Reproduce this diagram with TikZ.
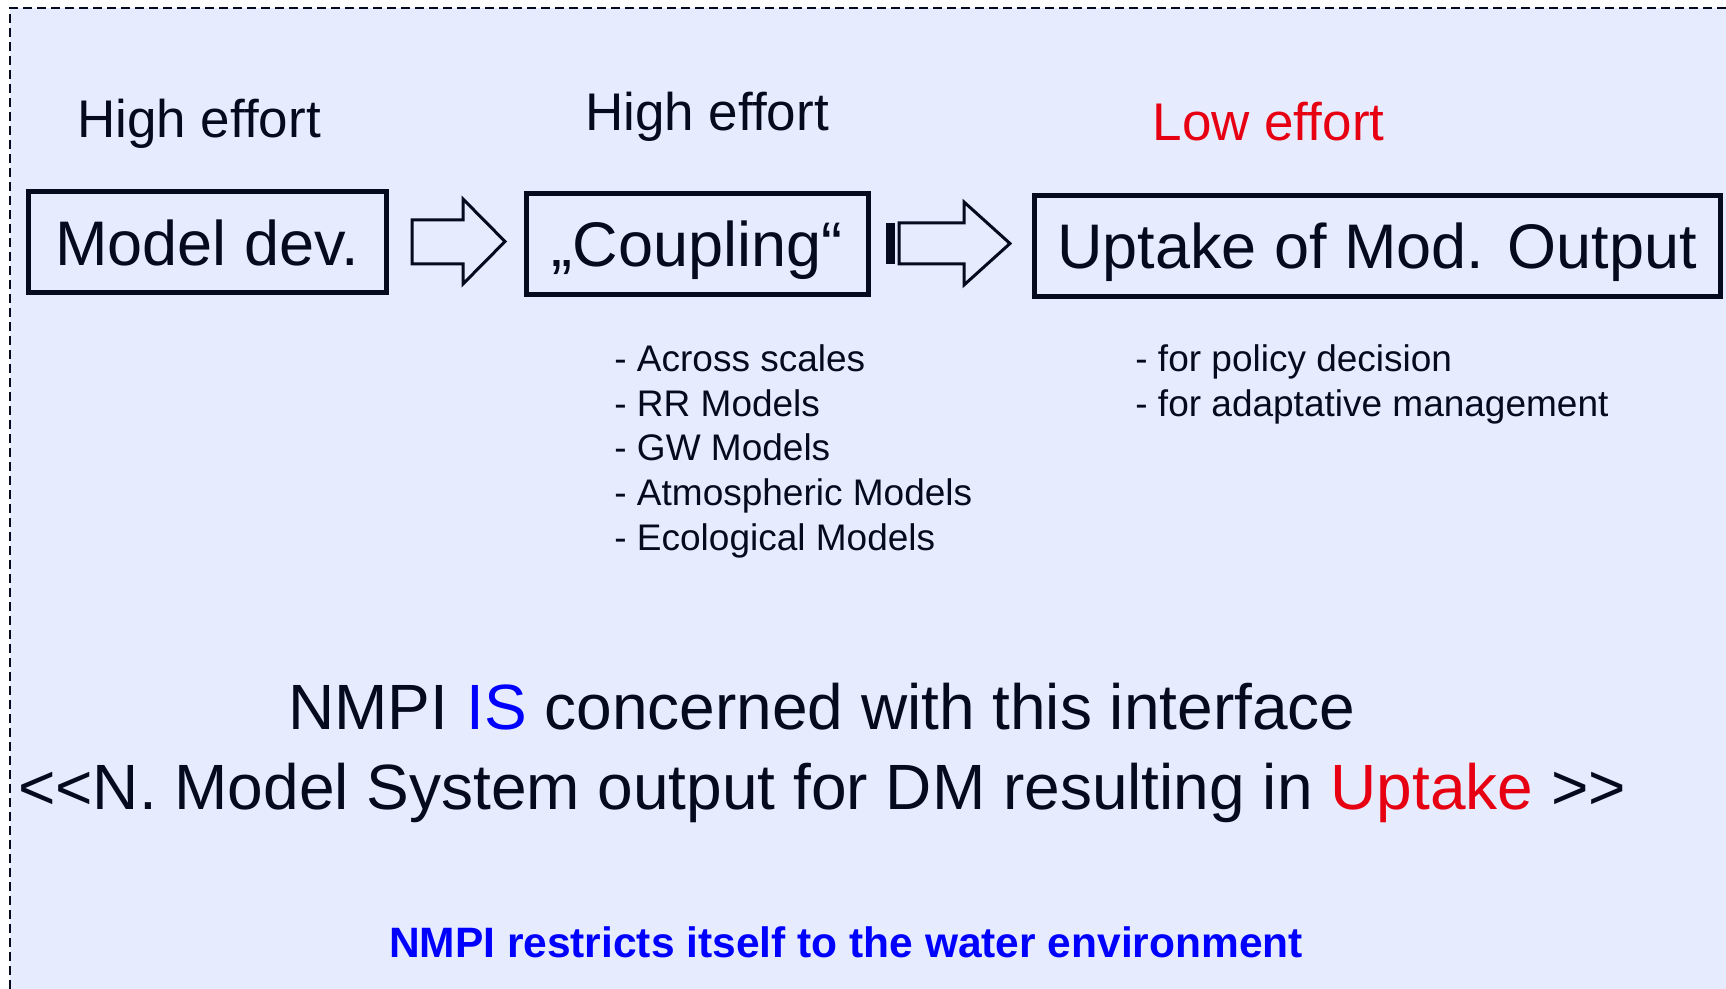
\documentclass[tikz,border=0pt]{standalone}
\usepackage{fontspec}
\setmainfont{Liberation Sans}
\definecolor{paneblue}{RGB}{230,235,254}
\definecolor{inkdark}{RGB}{5,10,30}
\definecolor{lowred}{RGB}{230,0,18}
\definecolor{nmpiblue}{RGB}{0,0,255}

\begin{document}
\begin{tikzpicture}[x=0.5pt, y=-0.5pt, color=inkdark, text=inkdark,
  box/.style={draw, line width=2.5pt, inner sep=0pt, minimum height=50.5pt,
              text height=27pt, text depth=4pt, font=\fontsize{31.5}{36}\selectfont},
  effort/.style={anchor=base, inner sep=0pt, font=\fontsize{26.5}{30}\selectfont},
  item/.style={anchor=base west, inner sep=0pt, font=\fontsize{18.5}{22}\selectfont},
  bigline/.style={anchor=base, inner sep=0pt, font=\fontsize{32}{36}\selectfont},
  hollow/.style={draw, line width=1.5pt, line join=miter}]

% ---- page and panel --------------------------------------------------------------
\useasboundingbox (0,0) rectangle (1726,989);
\fill[white] (0,0) rectangle (1726,989);
\fill[paneblue] (10,8) rectangle (1726,989);
\draw[line width=1.2pt, dash pattern=on 4.5pt off 2.5pt] (10,989) -- (10,8) -- (1726,8);

% ---- effort labels ---------------------------------------------------------------
\node[effort] (effdev) at (199,138)    {High effort};
\node[effort] (effcpl) at (707,131)    {High effort};
\node[effort, text=lowred] (effupt) at (1268.5,141) {Low effort};

% ---- the three stages ------------------------------------------------------------
\node[box, minimum width=179pt] (modeldev) at (207,242.5) {Model dev.};
\node[box, minimum width=171pt] (coupling) at (697,244)   {„Coupling“};
\node[box, minimum width=343pt] (uptake)   at (1377,246)  {Uptake of Mod. Output};

% ---- block arrows between the stages ---------------------------------------------
\draw[hollow] (412,220) -- (463,220) -- (463,199) -- (505,241.5)
  -- (463,284) -- (463,264) -- (412,264) -- cycle;
\fill (886,223) rectangle (895,264);
\draw[hollow] (899,223) -- (964,223) -- (964,202) -- (1010,243.5)
  -- (964,285) -- (964,264) -- (899,264) -- cycle;

% ---- what coupling covers --------------------------------------------------------
\node[item] (across) at (614,371.5) {- Across scales};
\node[item] (rrmod)  at (614,416.2) {- RR Models};
\node[item] (gwmod)  at (614,461)   {- GW Models};
\node[item] (atmmod) at (614,505.7) {- Atmospheric Models};
\node[item] (ecomod) at (614,550.5) {- Ecological Models};

% ---- what uptake is for ----------------------------------------------------------
\node[item] (policy) at (1135,371.5) {- for policy decision};
\node[item] (adapt)  at (1135,416.2) {- for adaptative management};

% ---- the statement ---------------------------------------------------------------
\node[bigline] (concern) at (822,730)
  {NMPI \textcolor{nmpiblue}{IS} concerned with this interface};
\node[bigline] (scope) at (822,809)
  {<{}<N. Model System output for DM resulting in \textcolor{lowred}{Uptake} >{}>};

\node[anchor=base, inner sep=0pt, text=nmpiblue, font=\bfseries\fontsize{21.25}{25}\selectfont]
  (water) at (846,957.5) {NMPI restricts itself to the water environment};

\end{tikzpicture}
\end{document}
